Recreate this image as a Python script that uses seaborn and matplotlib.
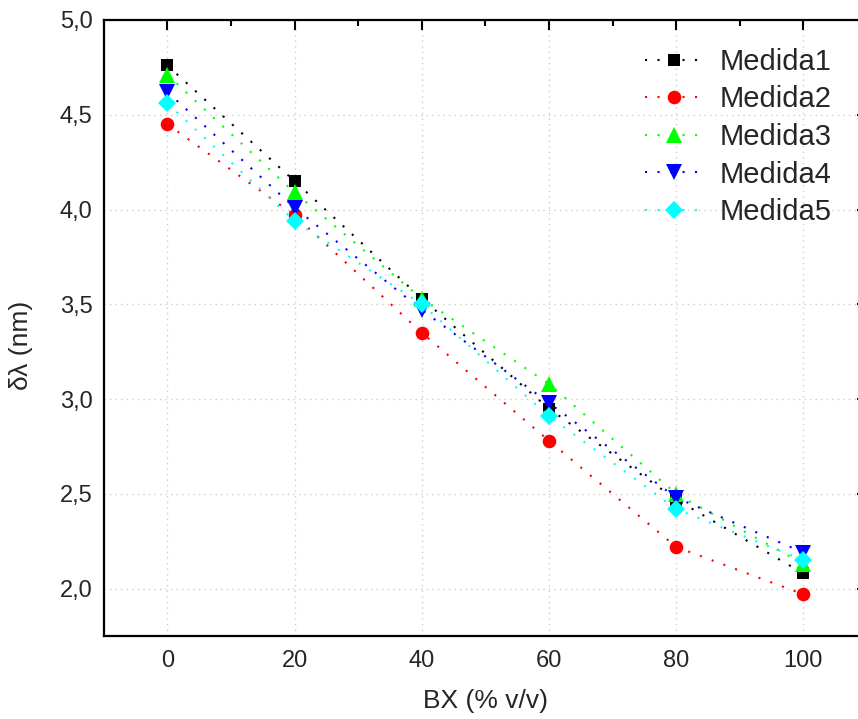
import pandas as pd
import matplotlib
matplotlib.use('Agg')
import matplotlib.pyplot as plt
import seaborn as sns
from matplotlib.ticker import MultipleLocator, FuncFormatter

# Datos
bx = [0, 20, 40, 60, 80, 100]
medida1 = [4.76, 4.15, 3.53, 2.95, 2.47, 2.08]
medida2 = [4.45, 3.97, 3.35, 2.78, 2.22, 1.97]
medida3 = [4.71, 4.09, 3.53, 3.08, 2.50, 2.13]
medida4 = [4.62, 4.01, 3.47, 2.98, 2.48, 2.19]
medida5 = [4.56, 3.94, 3.50, 2.91, 2.42, 2.15]
nombres = ['Medida1', 'Medida2', 'Medida3', 'Medida4', 'Medida5']
colores = ['#000000', '#ff0000', '#00ff00', '#0000ff', '#00ffff']
marcadores = ['s', 'o', '^', 'v', 'D']
tamanos = [9, 9.8, 11.5, 11.5, 9.5]

series = [medida1, medida2, medida3, medida4, medida5]
df = pd.DataFrame({
    'BX': bx * len(series),
    'dl': [v for s in series for v in s],
    'Serie': [n for n in nombres for _ in bx],
})

sns.set_style('white')
plt.rcParams['font.family'] = ['Liberation Sans', 'DejaVu Sans']

fig = plt.figure(figsize=(8.58, 7.19), dpi=100)
ax = fig.add_axes([0.1209, 0.1154, 0.8896, 0.8568])

sns.lineplot(data=df, x='BX', y='dl', hue='Serie', style='Serie',
             palette=colores, markers=marcadores, dashes=[(1, 5)] * 5,
             markersize=10, markeredgewidth=0, linewidth=1.5,
             legend=False, ax=ax)
for ln, ms in zip(ax.lines[:5], tamanos):
    ln.set_markersize(ms)

ax.set_xlim(-10, 110)
ax.set_ylim(1.75, 5.0)
ax.xaxis.set_major_locator(MultipleLocator(20))
ax.xaxis.set_minor_locator(MultipleLocator(10))
ax.yaxis.set_major_locator(MultipleLocator(0.5))
ax.yaxis.set_minor_locator(MultipleLocator(0.25))
ax.yaxis.set_major_formatter(FuncFormatter(lambda v, p: f'{v:.1f}'.replace('.', ',')))

ax.grid(True, which='major', linestyle=(0, (1, 3)), color='#cccccc', linewidth=1)
for s in ax.spines.values():
    s.set_visible(True)
    s.set_color('black')
    s.set_linewidth(1.6)
ax.tick_params(which='both', direction='in', top=True, right=True,
               color='black', width=1.5, labelsize=17)
ax.tick_params(which='major', length=7)
ax.tick_params(which='minor', length=4)
ax.tick_params(axis='x', pad=10)
ax.tick_params(axis='y', pad=8)

ax.set_xlabel('BX (% v/v)', fontsize=19, labelpad=12)
ax.set_ylabel('δλ (nm)', fontsize=19)
ax.yaxis.set_label_coords(-0.093, 0.472)

ax.legend(ax.lines[:5], nombres, loc='upper left', bbox_to_anchor=(0.709, 0.955),
          frameon=False, fontsize=21, handlelength=2.0, handletextpad=0.55,
          labelspacing=0.33, borderpad=0, borderaxespad=0, numpoints=1)

fig.savefig('out.png', dpi=100)
